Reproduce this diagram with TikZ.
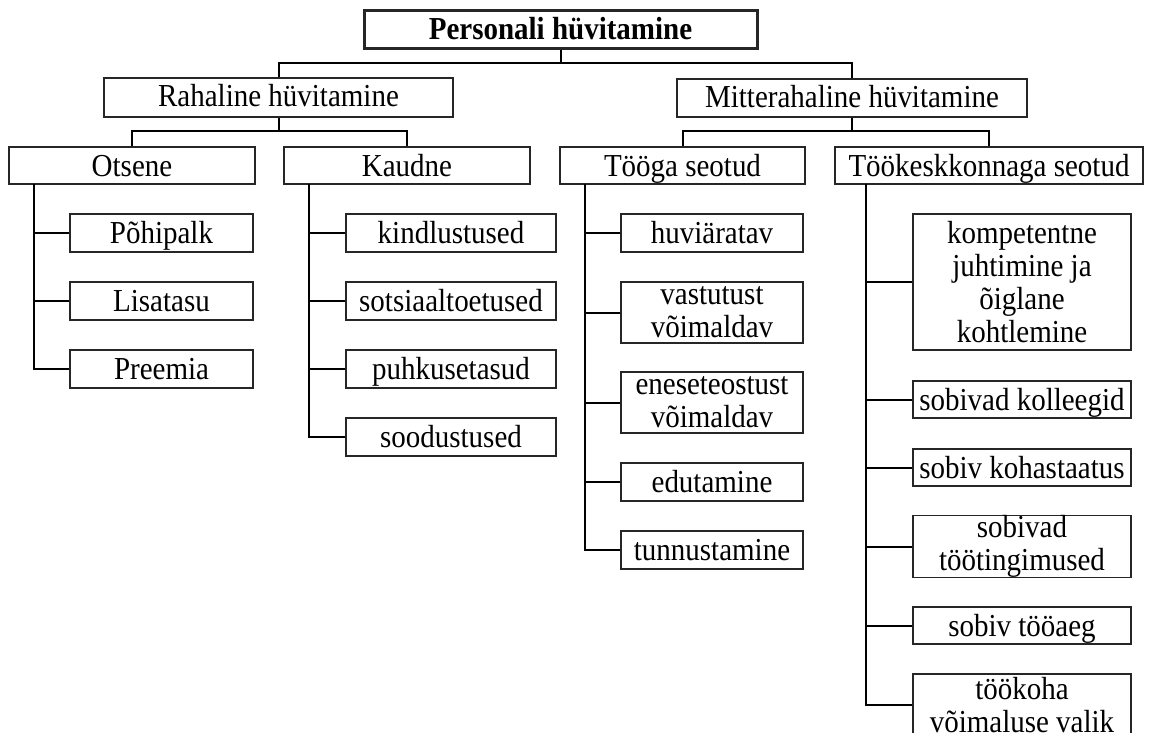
\documentclass[tikz,border=0pt]{standalone}
\usepackage{fontspec}
\setmainfont{Liberation Serif}[FakeStretch=0.906]
\begin{document}
\begin{tikzpicture}[x=1pt,y=-1pt,
  box/.style={draw=black!85, line width=1.3pt, inner sep=0pt, align=center,
    font=\fontsize{32}{33}\selectfont, fill=white},
  one/.style={box, text height=21pt, text depth=0pt},
  topbox/.style={one, line width=3pt, font=\fontsize{32}{33}\selectfont\bfseries, text height=19pt},
  bus/.style={line width=2pt},
  trunk/.style={line width=2.8pt},
  branch/.style={line width=2pt}]
\clip (0,0) rectangle (1149,733);
\fill[white] (0,0) rectangle (1149,733);

% top level
\node[topbox, minimum width=393pt, minimum height=38pt] (top) at (560.5,30) {Personali hüvitamine};
\node[one, text height=19pt, minimum width=349pt, minimum height=39pt] (rah) at (278.5,97.5) {Rahaline hüvitamine};
\node[one, text height=19pt, minimum width=350pt, minimum height=38pt] (mit) at (852,98) {Mitterahaline hüvitamine};

\node[one, minimum width=246pt, minimum height=37pt] (ots) at (132,165.5) {Otsene};
\node[one, minimum width=246pt, minimum height=37pt] (kau) at (407,165.5) {Kaudne};
\node[one, minimum width=245pt, minimum height=37pt] (too) at (682.5,165.5) {Tööga seotud};
\node[one, minimum width=308pt, minimum height=37pt] (tke) at (989,165.5) {Töökeskkonnaga seotud};

% upper connectors
\coordinate (b0) at (560.5,63);
\coordinate (b1) at (278.5,131.5);
\coordinate (b2) at (852,131.5);
\draw[bus] (top.south) -- (b0);
\draw[bus] (rah.north) |- (b0) -| (mit.north);
\draw[bus] (rah.south) -- (b1);
\draw[bus] (ots.north) |- (b1) -| (kau.north);
\draw[bus] (mit.south) -- (b2);
\draw[bus] (too.north) |- (b2) -| (tke.north);

% Otsene children
\node[one, minimum width=183pt, minimum height=38pt] (o1) at (161.5,233) {Põhipalk};
\node[one, minimum width=183pt, minimum height=38pt] (o2) at (161.5,301) {Lisatasu};
\node[one, minimum width=183pt, minimum height=38pt] (o3) at (161.5,369) {Preemia};

% Kaudne children
\node[one, minimum width=210pt, minimum height=38pt] (k1) at (451,233) {kindlustused};
\node[one, minimum width=210pt, minimum height=38pt] (k2) at (451,301) {sotsiaaltoetused};
\node[one, minimum width=210pt, minimum height=38pt] (k3) at (451,369) {puhkusetasud};
\node[one, minimum width=210pt, minimum height=38pt] (k4) at (451,437) {soodustused};

% Tooga children
\node[one, minimum width=182pt, minimum height=38pt] (t1) at (712,233) {huviäratav};
\node[box, minimum width=182pt, minimum height=61pt] (t2) at (712,312.5) {vastutust\\võimaldav};
\node[box, minimum width=182pt, minimum height=61pt] (t3) at (712,402.5) {eneseteostust\\võimaldav};
\node[one, minimum width=182pt, minimum height=38pt] (t4) at (712,482) {edutamine};
\node[one, minimum width=182pt, minimum height=38pt] (t5) at (712,550) {tunnustamine};

% Tookeskkonnaga children
\node[box, minimum width=218pt, minimum height=136pt] (e1) at (1022,282) {kompetentne\\juhtimine ja\\õiglane\\kohtlemine};
\node[one, minimum width=218pt, minimum height=37pt] (e2) at (1022,399.5) {sobivad kolleegid};
\node[one, minimum width=218pt, minimum height=37pt] (e3) at (1022,467.5) {sobiv kohastaatus};
\node[box, minimum width=218pt, minimum height=61pt] (e4) at (1022,546.5) {sobivad\\töötingimused};
\node[one, minimum width=218pt, minimum height=37pt] (e5) at (1022,625.5) {sobiv tööaeg};
\node[box, minimum width=218pt, minimum height=62pt] (e6) at (1022,705) {töökoha\\võimaluse valik};

% trunks
\coordinate (ot) at (34,184);
\coordinate (kt) at (309,184);
\coordinate (tt) at (585,184);
\coordinate (et) at (866,184);
\draw[trunk] (ot) |- (o3.west);
\draw[trunk] (kt) |- (k4.west);
\draw[trunk] (tt) |- (t5.west);
\draw[trunk] (et) |- (e6.west);

% branches
\foreach \n in {o1,o2,o3} \draw[branch] (\n.west) -- (\n.west -| ot);
\foreach \n in {k1,k2,k3,k4} \draw[branch] (\n.west) -- (\n.west -| kt);
\foreach \n in {t1,t2,t3,t4,t5} \draw[branch] (\n.west) -- (\n.west -| tt);
\foreach \n in {e1,e2,e3,e4,e5,e6} \draw[branch] (\n.west) -- (\n.west -| et);
\end{tikzpicture}
\end{document}
